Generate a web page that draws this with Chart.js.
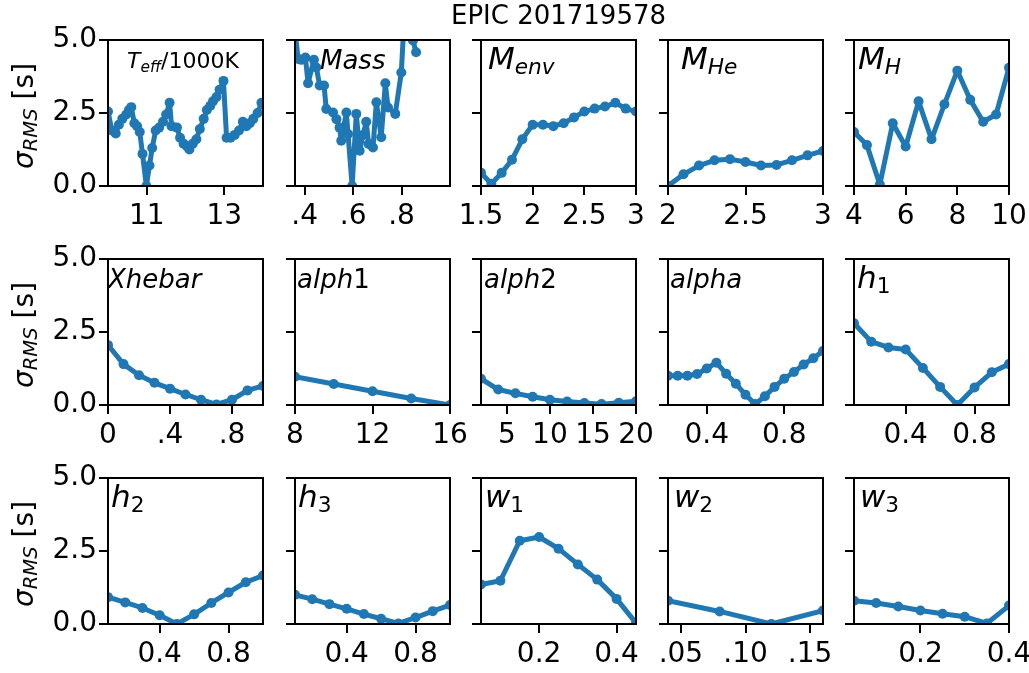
<!DOCTYPE html>
<html>
<head>
<meta charset="utf-8">
<title>EPIC 201719578</title>
<script src="https://cdn.jsdelivr.net/npm/chart.js@4.4.1/dist/chart.umd.min.js"></script>
<style>
  body { margin: 0; background: #fff; }
  #fig { position: relative; width: 1029px; height: 673px; overflow: hidden; background: #fff;
         font-family: 'DejaVu Sans', sans-serif; color: #000; }
  #fig canvas { position: absolute; }
  .lbl { position: absolute; white-space: nowrap; line-height: 1; }
  .lbl i { font-style: italic; }
  .sub { position: relative; top: 0.22em; font-size: 0.7em; }
  .ylab { position: absolute; white-space: nowrap; line-height: 1; font-size: 28px;
          transform: translate(-50%, -50%) rotate(-90deg); }
  .title { position: absolute; white-space: nowrap; line-height: 1; font-size: 26px;
           transform: translateX(-50%); }
</style>
</head>
<body>
<div id="fig"></div>
<script>
// sigma_RMS axis, shared by all panels
const yTicks = [0, 2.5, 5];
const yTickLabels = ['0.0', '2.5', '5.0'];

// row 1
const teffX = [10.0, 10.1, 10.2, 10.28, 10.37, 10.47, 10.54, 10.6, 10.68, 10.75, 10.82, 10.89, 10.99,
  11.07, 11.14, 11.23, 11.32, 11.42, 11.5, 11.59, 11.64, 11.78, 11.86, 11.95, 12.04, 12.1, 12.19,
  12.28, 12.37, 12.47, 12.55, 12.64, 12.71, 12.8, 12.88, 12.98, 13.06, 13.16, 13.27, 13.38, 13.48,
  13.57, 13.66, 13.75, 13.86, 13.96];
const teffY = [2.55, 1.9, 1.8, 2.1, 2.3, 2.45, 2.6, 2.7, 2.15, 2.05, 1.85, 1.1, 0.0,
  0.7, 1.3, 1.9, 2.0, 2.2, 2.45, 2.85, 2.05, 2.0, 1.65, 1.45, 1.35, 1.25, 1.45,
  1.6, 1.95, 2.3, 2.6, 2.75, 2.9, 3.05, 3.3, 3.6, 1.65, 1.65, 1.75, 1.9, 2.2,
  2.05, 2.15, 2.3, 2.5, 2.85];
const teffTicks = [11, 13];
const teffTickLabels = ['11', '13'];

const massX = [0.36, 0.373, 0.386, 0.403, 0.414, 0.438, 0.448, 0.462, 0.48, 0.489, 0.517, 0.531,
  0.544, 0.551, 0.572, 0.579, 0.596, 0.613, 0.627, 0.641, 0.654, 0.664, 0.682, 0.696, 0.716,
  0.733, 0.744, 0.774, 0.799, 0.81, 0.847, 0.86];
const massY = [5.3, 4.35, 4.32, 4.4, 3.52, 4.32, 4.06, 3.44, 3.44, 2.64, 2.52, 2.29,
  2.0, 1.55, 2.52, 1.78, 0.0, 2.47, 1.21, 1.75, 2.2, 1.44, 1.32, 2.87, 1.67,
  3.52, 2.69, 2.47, 3.89, 5.6, 4.98, 4.58];
const massTicks = [0.4, 0.6, 0.8];
const massTickLabels = ['.4', '.6', '.8'];

const menvX = [1.5, 1.6, 1.7, 1.8, 1.9, 2.0, 2.1, 2.2, 2.3, 2.4, 2.5, 2.6, 2.7, 2.8, 2.9, 3.0];
const menvY = [0.45, 0.08, 0.45, 0.9, 1.6, 2.1, 2.1, 2.05, 2.15, 2.35, 2.55, 2.65, 2.72, 2.85, 2.65, 2.55];
const menvTicks = [1.5, 2, 2.5, 3];
const menvTickLabels = ['1.5', '2', '2.5', '3'];

const mheX = [2.0, 2.1, 2.2, 2.3, 2.4, 2.5, 2.6, 2.7, 2.8, 2.9, 3.0];
const mheY = [0.0, 0.4, 0.7, 0.88, 0.92, 0.82, 0.7, 0.72, 0.88, 1.05, 1.2];
const mheTicks = [2, 2.5, 3];
const mheTickLabels = ['2', '2.5', '3'];

const mhX = [4, 4.5, 5, 5.5, 6, 6.5, 7, 7.5, 8, 8.5, 9, 9.5, 10];
const mhY = [1.85, 1.4, 0.05, 2.15, 1.35, 2.9, 1.6, 2.8, 3.95, 2.95, 2.2, 2.45, 4.05];
const mhTicks = [4, 6, 8, 10];
const mhTickLabels = ['4', '6', '8', '10'];

// row 2
const xhebarX = [0, 0.1, 0.2, 0.3, 0.4, 0.5, 0.6, 0.7, 0.8, 0.9, 1.0];
const xhebarY = [2.05, 1.4, 1.02, 0.76, 0.56, 0.36, 0.18, 0.02, 0.18, 0.5, 0.65];
const xhebarTicks = [0, 0.4, 0.8];
const xhebarTickLabels = ['0', '.4', '.8'];

const alph1X = [8, 10, 12, 14, 16];
const alph1Y = [0.97, 0.72, 0.47, 0.22, 0.0];
const alph1Ticks = [8, 12, 16];
const alph1TickLabels = ['8', '12', '16'];

const alph2X = [2, 4, 6, 8, 10, 12, 14, 16, 18, 20];
const alph2Y = [0.9, 0.53, 0.4, 0.28, 0.18, 0.12, 0.07, 0.03, 0.08, 0.13];
const alph2Ticks = [5, 10, 15, 20];
const alph2TickLabels = ['5', '10', '15', '20'];

const alphaX = [0.2, 0.25, 0.3, 0.35, 0.4, 0.45, 0.5, 0.55, 0.6, 0.65, 0.7, 0.75, 0.8, 0.85, 0.9, 0.95, 1.0];
const alphaY = [1.0, 1.0, 1.0, 1.06, 1.25, 1.45, 1.07, 0.73, 0.35, 0.03, 0.3, 0.62, 0.9, 1.13, 1.39, 1.6, 1.85];
const alphaTicks = [0.4, 0.8];
const alphaTickLabels = ['0.4', '0.8'];

const h1X = [0.1, 0.2, 0.3, 0.4, 0.5, 0.6, 0.7, 0.8, 0.9, 1.0];
const h1Y = [2.8, 2.17, 1.97, 1.9, 1.27, 0.62, 0.0, 0.6, 1.12, 1.4];
const h1Ticks = [0.4, 0.8];
const h1TickLabels = ['0.4', '0.8'];

// row 3
const h2X = [0.1, 0.2, 0.3, 0.4, 0.5, 0.6, 0.7, 0.8, 0.9, 1.0];
const h2Y = [0.92, 0.74, 0.55, 0.3, 0.0, 0.33, 0.72, 1.08, 1.43, 1.66];
const h2Ticks = [0.4, 0.8];
const h2TickLabels = ['0.4', '0.8'];

const h3X = [0.1, 0.2, 0.3, 0.4, 0.5, 0.6, 0.7, 0.8, 0.9, 1.0];
const h3Y = [1.0, 0.85, 0.68, 0.52, 0.34, 0.18, 0.02, 0.22, 0.44, 0.65];
const h3Ticks = [0.4, 0.8];
const h3TickLabels = ['0.4', '0.8'];

const w1X = [0.05, 0.1, 0.15, 0.2, 0.25, 0.3, 0.35, 0.4, 0.45];
const w1Y = [1.35, 1.48, 2.85, 2.98, 2.58, 2.04, 1.52, 0.86, 0.03];
const w1Ticks = [0.2, 0.4];
const w1TickLabels = ['0.2', '0.4'];

const w2X = [0.04, 0.08, 0.12, 0.16];
const w2Y = [0.8, 0.43, 0.0, 0.46];
const w2Ticks = [0.05, 0.10, 0.15];
const w2TickLabels = ['.05', '.10', '.15'];

const w3X = [0.05, 0.1, 0.15, 0.2, 0.25, 0.3, 0.35, 0.4];
const w3Y = [0.8, 0.72, 0.6, 0.46, 0.35, 0.25, 0.02, 0.63];
const w3Ticks = [0.2, 0.4];
const w3TickLabels = ['0.2', '0.4'];

const BLUE = '#1f77b4';
const FONT = "'DejaVu Sans', sans-serif";

// grid geometry (px)
const colLeft = [108, 295, 481, 668, 854];
const rowTop = [40, 259, 478];
const PANEL_W = 155, PANEL_H = 146;
const PAD_L = 75, PAD_R = 30, PAD_T = 20, PAD_B = 45;
const LABEL_BASE = 29; // label baseline below the panel top

const panels = [
  { xs: teffX, ys: teffY, ticks: teffTicks, tickLabels: teffTickLabels, min: 10, max: 14,
    label: '<i>T</i><span class="sub"><i>eff</i></span>/1000K', size: 22, dx: 19 },
  { xs: massX, ys: massY, ticks: massTicks, tickLabels: massTickLabels, min: 0.36, max: 1.0,
    label: '<i>Mass</i>', size: 26, dx: 25 },
  { xs: menvX, ys: menvY, ticks: menvTicks, tickLabels: menvTickLabels, min: 1.5, max: 3,
    label: '<i>M</i><span class="sub"><i>env</i></span>', size: 31, dx: 7 },
  { xs: mheX, ys: mheY, ticks: mheTicks, tickLabels: mheTickLabels, min: 2, max: 3,
    label: '<i>M</i><span class="sub"><i>He</i></span>', size: 31, dx: 13 },
  { xs: mhX, ys: mhY, ticks: mhTicks, tickLabels: mhTickLabels, min: 4, max: 10,
    label: '<i>M</i><span class="sub"><i>H</i></span>', size: 31, dx: 4 },

  { xs: xhebarX, ys: xhebarY, ticks: xhebarTicks, tickLabels: xhebarTickLabels, min: 0, max: 1,
    label: '<i>Xhebar</i>', size: 26, dx: 0 },
  { xs: alph1X, ys: alph1Y, ticks: alph1Ticks, tickLabels: alph1TickLabels, min: 8, max: 16,
    label: '<i>alph</i>1', size: 26, dx: 2 },
  { xs: alph2X, ys: alph2Y, ticks: alph2Ticks, tickLabels: alph2TickLabels, min: 2, max: 20,
    label: '<i>alph</i>2', size: 26, dx: 3 },
  { xs: alphaX, ys: alphaY, ticks: alphaTicks, tickLabels: alphaTickLabels, min: 0.2, max: 1.0,
    label: '<i>alpha</i>', size: 26, dx: 2 },
  { xs: h1X, ys: h1Y, ticks: h1Ticks, tickLabels: h1TickLabels, min: 0.1, max: 1.0,
    label: '<i>h</i><span class="sub">1</span>', size: 31, dx: 3 },

  { xs: h2X, ys: h2Y, ticks: h2Ticks, tickLabels: h2TickLabels, min: 0.1, max: 1.0,
    label: '<i>h</i><span class="sub">2</span>', size: 31, dx: 3 },
  { xs: h3X, ys: h3Y, ticks: h3Ticks, tickLabels: h3TickLabels, min: 0.1, max: 1.0,
    label: '<i>h</i><span class="sub">3</span>', size: 31, dx: 3 },
  { xs: w1X, ys: w1Y, ticks: w1Ticks, tickLabels: w1TickLabels, min: 0.05, max: 0.45,
    label: '<i>w</i><span class="sub">1</span>', size: 31, dx: 4 },
  { xs: w2X, ys: w2Y, ticks: w2Ticks, tickLabels: w2TickLabels, min: 0.04, max: 0.16,
    label: '<i>w</i><span class="sub">2</span>', size: 31, dx: 6 },
  { xs: w3X, ys: w3Y, ticks: w3Ticks, tickLabels: w3TickLabels, min: 0.05, max: 0.4,
    label: '<i>w</i><span class="sub">3</span>', size: 31, dx: 6 }
];

// box round the plot area, drawn over the line like matplotlib spines
const framePlugin = {
  id: 'frame',
  afterDatasetsDraw(chart) {
    const { ctx, chartArea: a } = chart;
    ctx.save();
    ctx.strokeStyle = '#000';
    ctx.lineWidth = 2;
    ctx.strokeRect(a.left, a.top, a.right - a.left, a.bottom - a.top);
    ctx.restore();
  }
};

const fig = document.getElementById('fig');

function axisStyle() {
  return {
    grid: { drawOnChartArea: false, drawTicks: true, tickLength: 9, color: '#000', lineWidth: 2 },
    border: { display: true, color: '#000', width: 2 }
  };
}

function makePanel(p, i) {
  const row = Math.floor(i / 5), col = i % 5;
  const left = colLeft[col], top = rowTop[row];

  const canvas = document.createElement('canvas');
  canvas.width = PAD_L + PANEL_W + PAD_R;
  canvas.height = PAD_T + PANEL_H + PAD_B;
  canvas.style.left = (left - PAD_L) + 'px';
  canvas.style.top = (top - PAD_T) + 'px';
  fig.appendChild(canvas);

  new Chart(canvas, {
    type: 'line',
    data: {
      datasets: [{
        data: p.xs.map((x, k) => ({ x: x, y: p.ys[k] })),
        borderColor: BLUE,
        backgroundColor: BLUE,
        borderWidth: 5,
        borderJoinStyle: 'round',
        borderCapStyle: 'round',
        pointRadius: 5,
        pointBorderWidth: 0,
        pointBackgroundColor: BLUE,
        tension: 0,
        fill: false
      }]
    },
    options: {
      responsive: false,
      animation: false,
      events: [],
      layout: { padding: { left: 0, top: PAD_T, right: PAD_R, bottom: 0 } },
      plugins: { legend: { display: false }, tooltip: { enabled: false } },
      scales: {
        x: Object.assign(axisStyle(), {
          type: 'linear',
          min: p.min,
          max: p.max,
          afterFit: s => { s.height = PAD_B; },
          afterBuildTicks: s => { s.ticks = p.ticks.map(v => ({ value: v })); },
          ticks: {
            autoSkip: false, maxRotation: 0, padding: 5, color: '#000',
            font: { family: FONT, size: 28 },
            callback: (v, k) => p.tickLabels[k]
          }
        }),
        y: Object.assign(axisStyle(), {
          type: 'linear',
          min: 0,
          max: 5,
          afterFit: s => { s.width = PAD_L; },
          afterBuildTicks: s => { s.ticks = yTicks.map(v => ({ value: v })); },
          ticks: {
            display: col === 0, padding: 2, color: '#000',
            font: { family: FONT, size: 28 },
            callback: (v, k) => yTickLabels[k]
          }
        })
      }
    },
    plugins: [framePlugin]
  });

  const lbl = document.createElement('div');
  lbl.className = 'lbl';
  lbl.style.fontSize = p.size + 'px';
  lbl.style.left = (left + p.dx) + 'px';
  lbl.style.top = (top + LABEL_BASE - 0.846 * p.size) + 'px';
  lbl.innerHTML = p.label;
  fig.appendChild(lbl);

  if (col === 0) {
    const yl = document.createElement('div');
    yl.className = 'ylab';
    yl.style.left = '24px';
    yl.style.top = (top + PANEL_H / 2 + 3) + 'px';
    yl.innerHTML = '<i>σ</i><span class="sub"><i>RMS</i></span> [s]';
    fig.appendChild(yl);
  }
}

panels.forEach(makePanel);

// title sits over the middle column
const title = document.createElement('div');
title.className = 'title';
title.textContent = 'EPIC 201719578';
title.style.left = (colLeft[2] + PANEL_W / 2) + 'px';
title.style.top = (24 - 0.846 * 26) + 'px';
fig.appendChild(title);
</script>
</body>
</html>
